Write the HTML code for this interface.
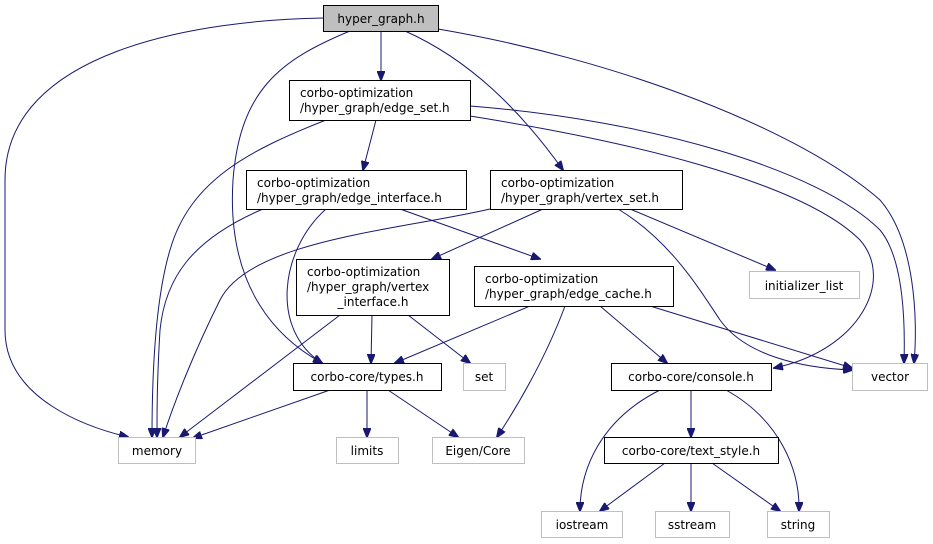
<!DOCTYPE html>
<html><head><meta charset="utf-8"><style>
body{margin:0;background:#fff;width:933px;height:544px;overflow:hidden}
svg{display:block}
text{font-family:"DejaVu Sans","Liberation Sans",sans-serif;font-size:12px;fill:#000}
.n{fill:#fff;stroke:#000;stroke-width:1}
.g{fill:#fff;stroke:#bfbfbf;stroke-width:1}
.e{fill:none;stroke:#191970;stroke-width:1;marker-end:url(#a)}
</style></head><body>
<svg width="933" height="544" viewBox="0 0 933 544">
<defs><marker id="a" markerWidth="10" markerHeight="8" refX="9" refY="4" orient="auto" markerUnits="userSpaceOnUse"><path d="M0,0 L10,4 L0,8 z" fill="#191970" stroke="#191970"/></marker></defs>
<g>
<path class="e" d="M323,18 C200,20 5,50 5,180 L5,330 C5,400 90,428 128,437"/>
<path class="e" d="M350,31 C280,60 240,90 233,180 C226,290 280,340 322,363"/>
<path class="e" d="M381,31 L381,80"/>
<path class="e" d="M405,31 C470,60 520,110 563,170"/>
<path class="e" d="M438,29 C620,60 800,130 880,200 C915,240 918,320 914,363"/>
<path class="e" d="M326,120 C250,150 190,180 170,250 C155,300 152,380 152,437"/>
<path class="e" d="M376,120 L363,170"/>
<path class="e" d="M470,106 C650,120 820,170 880,230 C905,260 905,330 904,363"/>
<path class="e" d="M470,116 C620,140 800,180 860,240 C895,280 860,350 774,368"/>
<path class="e" d="M263,209 C190,240 165,280 160,330 C157,380 157,410 157,437"/>
<path class="e" d="M326,209 C280,250 270,330 322,363"/>
<path class="e" d="M400,209 L540,259"/>
<path class="e" d="M490,209 C400,230 250,240 220,300 C195,350 175,400 163,437"/>
<path class="e" d="M543,209 L432,259"/>
<path class="e" d="M630,209 L775,270"/>
<path class="e" d="M618,209 C670,240 700,290 720,320 C745,355 800,368 852,370"/>
<path class="e" d="M340,315 L180,437"/>
<path class="e" d="M372,315 L371,363"/>
<path class="e" d="M408,315 L470,363"/>
<path class="e" d="M530,306 L395,363"/>
<path class="e" d="M565,306 C545,360 515,410 497,437"/>
<path class="e" d="M600,306 L667,363"/>
<path class="e" d="M650,306 L852,368"/>
<path class="e" d="M330,390 L193,438"/>
<path class="e" d="M367,390 L367,437"/>
<path class="e" d="M388,390 L458,437"/>
<path class="e" d="M660,390 C600,420 580,470 580,511"/>
<path class="e" d="M691,390 L691,437"/>
<path class="e" d="M726,390 C780,420 800,470 799,511"/>
<path class="e" d="M665,463 L600,511"/>
<path class="e" d="M691,463 L691,511"/>
<path class="e" d="M712,463 L780,511"/>
</g>
<rect x="323.5" y="5.5" width="115" height="26" fill="#bfbfbf" stroke="#000"/>
<text x="381" y="23" text-anchor="middle">hyper_graph.h</text>
<rect class="n" x="289.5" y="80.5" width="181" height="40"/>
<text x="300" y="97">corbo-optimization</text><text x="300" y="112">/hyper_graph/edge_set.h</text>
<rect class="n" x="246.5" y="170.5" width="220" height="39"/>
<text x="257" y="187">corbo-optimization</text><text x="257" y="202">/hyper_graph/edge_interface.h</text>
<rect class="n" x="490.5" y="170.5" width="192" height="39"/>
<text x="501" y="187">corbo-optimization</text><text x="501" y="202">/hyper_graph/vertex_set.h</text>
<rect class="n" x="296.5" y="259.5" width="153" height="56"/>
<text x="307" y="276">corbo-optimization</text><text x="307" y="291">/hyper_graph/vertex</text><text x="373" y="306" text-anchor="middle">_interface.h</text>
<rect class="n" x="474.5" y="266.5" width="199" height="40"/>
<text x="485" y="283">corbo-optimization</text><text x="485" y="298">/hyper_graph/edge_cache.h</text>
<rect class="g" x="749.5" y="271.5" width="110" height="27"/>
<text x="804" y="290" text-anchor="middle">initializer_list</text>
<rect class="n" x="293.5" y="363.5" width="148" height="27"/>
<text x="367" y="381" text-anchor="middle">corbo-core/types.h</text>
<rect class="g" x="463.5" y="363.5" width="42" height="27"/>
<text x="484" y="381" text-anchor="middle">set</text>
<rect class="n" x="611.5" y="363.5" width="160" height="27"/>
<text x="691" y="381" text-anchor="middle">corbo-core/console.h</text>
<rect class="g" x="852.5" y="363.5" width="75" height="27"/>
<text x="890" y="381" text-anchor="middle">vector</text>
<rect class="g" x="118.5" y="437.5" width="77" height="26"/>
<text x="157" y="455" text-anchor="middle">memory</text>
<rect class="g" x="336.5" y="437.5" width="62" height="26"/>
<text x="367" y="455" text-anchor="middle">limits</text>
<rect class="g" x="432.5" y="437.5" width="92" height="26"/>
<text x="478" y="455" text-anchor="middle">Eigen/Core</text>
<rect class="n" x="604.5" y="437.5" width="174" height="26"/>
<text x="691" y="455" text-anchor="middle">corbo-core/text_style.h</text>
<rect class="g" x="541.5" y="511.5" width="81" height="26"/>
<text x="582" y="529" text-anchor="middle">iostream</text>
<rect class="g" x="655.5" y="511.5" width="74" height="26"/>
<text x="692" y="529" text-anchor="middle">sstream</text>
<rect class="g" x="767.5" y="511.5" width="62" height="26"/>
<text x="798" y="529" text-anchor="middle">string</text>
</svg>
</body></html>
